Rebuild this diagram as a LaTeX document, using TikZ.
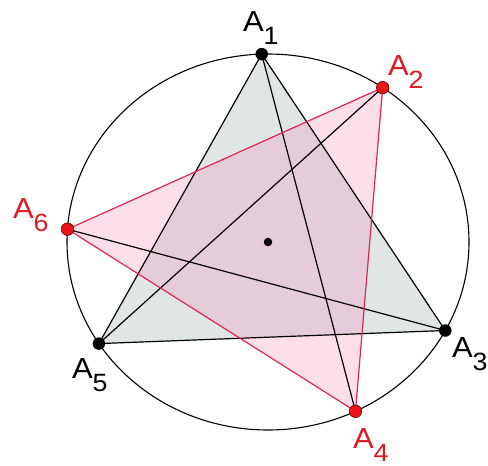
\documentclass[tikz,border=0pt]{standalone}
\usepackage{graphicx}
\usepackage{fontspec}
\setmainfont{Liberation Sans}
\definecolor{gfill}{RGB}{224,230,230}
\definecolor{pfill}{RGB}{245,145,185}
\definecolor{redline}{RGB}{222,40,80}
\definecolor{reddot}{RGB}{235,20,25}
\definecolor{redtext}{RGB}{225,25,35}
\tikzset{
  blk/.style={draw=black, line width=1.2pt},
  rdl/.style={draw=redline, line width=1.2pt},
  bdot/.style={circle, fill=black, inner sep=0pt, minimum size=12.5pt},
  rdot/.style={circle, fill=reddot, draw=black!60!red, line width=0.6pt, inner sep=0pt, minimum size=12.5pt},
  lbl/.style={anchor=base west, inner sep=0pt, outer sep=0pt},
}
\newcommand{\lab}[1]{\scalebox{1.07}[1]{{\fontsize{29}{29}\selectfont A}\raisebox{-13pt}{\fontsize{25}{25}\selectfont #1}}}
\begin{document}
\begin{tikzpicture}[x=1pt,y=-1pt]
\useasboundingbox (0,0) rectangle (488,466);
\coordinate (O) at (268,242);
\coordinate (A1) at (261.7,54.1);
\coordinate (A2) at (382.7,87.6);
\coordinate (A3) at (445.3,330.5);
\coordinate (A4) at (355.5,411.3);
\coordinate (A5) at (98.9,343.6);
\coordinate (A6) at (67.5,229.2);
% fills
\fill[gfill] (A1) -- (A3) -- (A5) -- cycle;
\fill[pfill, fill opacity=0.3] (A2) -- (A4) -- (A6) -- cycle;
% black lines
\draw[blk] (A1) -- (A3) -- (A5) -- cycle;
\draw[blk] (A1) -- (A4);
\draw[blk] (A2) -- (A5);
\draw[blk] (A6) -- (A3);
% red triangle
\draw[rdl] (A2) -- (A4) -- (A6) -- cycle;
% circle
\draw[black, line width=1.1pt] (O) ellipse [x radius=201, y radius=188];
% dots
\node[circle, fill=black, inner sep=0pt, minimum size=8.5pt] (c) at (O) {};
\node[bdot] (p1) at (A1) {};
\node[bdot] (p3) at (A3) {};
\node[bdot] (p5) at (A5) {};
\node[rdot] (p2) at (A2) {};
\node[rdot] (p4) at (A4) {};
\node[rdot] (p6) at (A6) {};
% labels
\node[lbl] (l1) at (243,31) {\lab{1}};
\node[lbl, text=redtext] (l2) at (388,75) {\lab{2}};
\node[lbl] (l3) at (452,357) {\lab{3}};
\node[lbl, text=redtext] (l4) at (353,448) {\lab{4}};
\node[lbl] (l5) at (72,378) {\lab{5}};
\node[lbl, text=redtext] (l6) at (13,218) {\lab{6}};
\end{tikzpicture}
\end{document}
